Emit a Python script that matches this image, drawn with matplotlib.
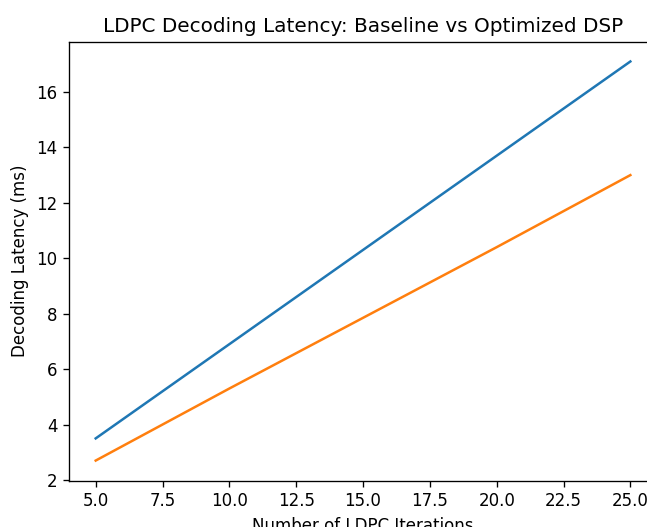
import matplotlib
matplotlib.use('Agg')
import matplotlib.pyplot as plt

# values
iterations = [5, 10, 15, 20, 25]
baseline_ms = [3.5, 6.9, 10.3, 13.7, 17.1]
optimized_ms = [2.7, 5.3, 7.85, 10.4, 13.0]

# reference looks rendered at ~120 dpi, so text and lines come out a bit larger
DPI = 120
fig = plt.figure(figsize=(647 / DPI, 527 / DPI), dpi=DPI)
# reference is cropped on the right, so the axes run past the figure edge
ax = fig.add_axes([0.1066, 0.0882, 0.909, 0.833])

ax.plot(iterations, baseline_ms, label='Baseline')
ax.plot(iterations, optimized_ms, label='Optimized DSP')

ax.set_title('LDPC Decoding Latency: Baseline vs Optimized DSP')
ax.set_xlabel('Number of LDPC Iterations')
ax.set_ylabel('Decoding Latency (ms)')

fig.savefig('out.png', dpi=DPI)
